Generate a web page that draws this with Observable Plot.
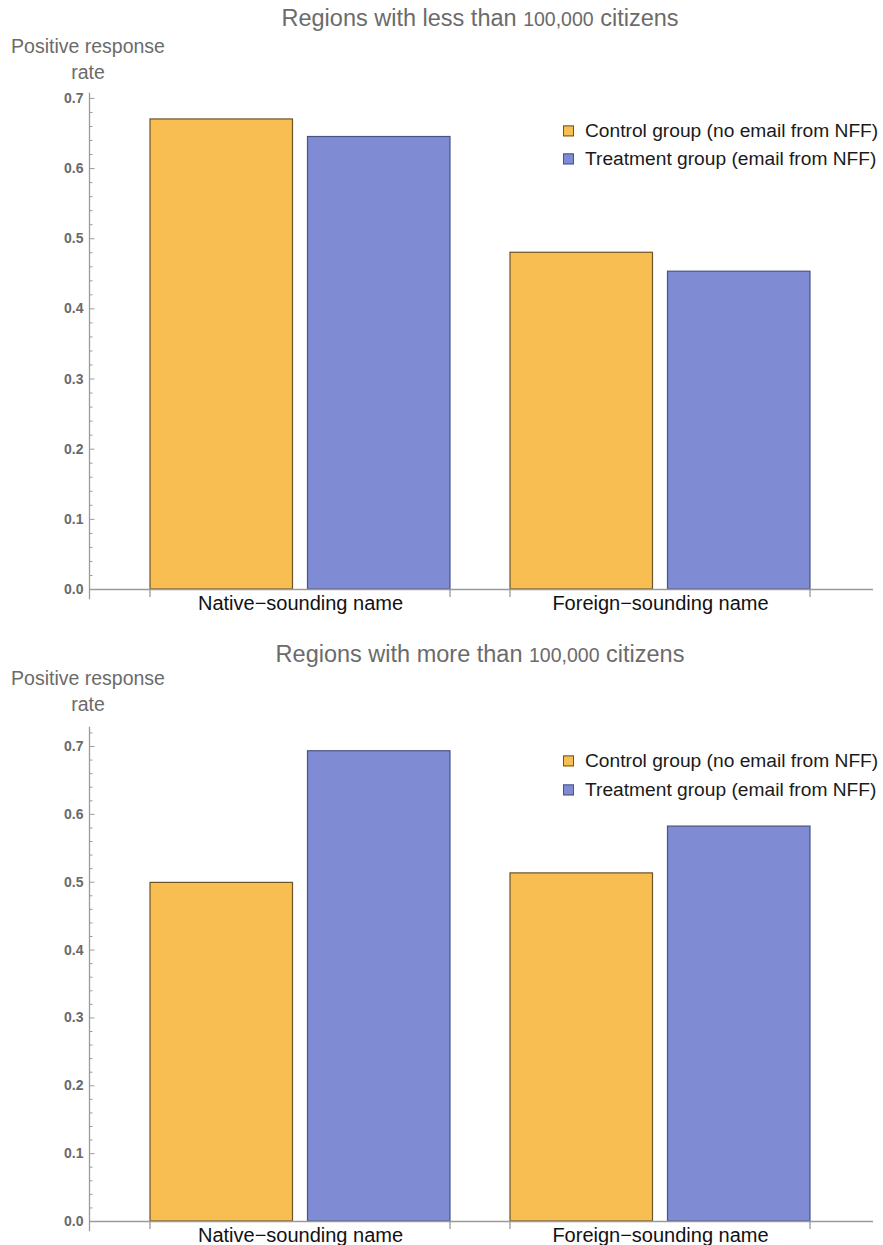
<!DOCTYPE html>
<html><head><meta charset="utf-8">
<script src="https://cdn.jsdelivr.net/npm/d3@7"></script>
<script src="https://cdn.jsdelivr.net/npm/@observablehq/plot@0.6"></script>
<style>
body{margin:0;background:#fff;font-family:"Liberation Sans",Arial,sans-serif;}
#root{position:relative;width:883px;height:1245px;overflow:hidden;background:#fff;}
.abs{position:absolute;white-space:nowrap;line-height:1;}
.title{color:#6b6b6b;font-size:23.5px;transform:translate(-50%,-50%);}
.title .num{font-size:19.5px;}
.ylab{color:#6b6b6b;font-size:19.5px;transform:translate(-50%,-50%);text-align:center;}
.leg{font-size:19.2px;color:#1a1a1a;transform:translateY(-50%);display:flex;align-items:center;}
.sw{width:9px;height:9px;border:1px solid;margin-right:11px;display:inline-block;}
svg{position:absolute;left:0;}
</style></head><body><div id="root"></div>
<script>
const categories = ["Native\u2212sounding name", "Foreign\u2212sounding name"];
const groups = ["Control group (no email from NFF)", "Treatment group (email from NFF)"];
const smallControl = [0.670, 0.480];
const smallTreatment = [0.645, 0.453];
const largeControl = [0.499, 0.513];
const largeTreatment = [0.693, 0.582];
const majorTicks = [0, 0.1, 0.2, 0.3, 0.4, 0.5, 0.6, 0.7];
const minorTicks = [0.02,0.04,0.06,0.08,0.12,0.14,0.16,0.18,0.22,0.24,0.26,0.28,0.32,0.34,0.36,0.38,0.42,0.44,0.46,0.48,0.52,0.54,0.56,0.58,0.62,0.64,0.66,0.68,0.72];
const fills = ["#F9BE52", "#7F8CD4"];
const edges = ["#6a5428", "#4a5384"];
const titles = ["less", "more"];

const root = document.getElementById("root");
const FONT = "'Liberation Sans', Arial, sans-serif";

function chart(cfg) {
  const ctrl = categories.map((c, i) => ({category: c, group: groups[0], value: cfg.control[i]}));
  const treat = categories.map((c, i) => ({category: c, group: groups[1], value: cfg.treatment[i]}));
  const inset = 157.5;
  const plot = Plot.plot({
    width: 883, height: cfg.height,
    marginLeft: 89, marginRight: 12, marginTop: cfg.marginTop, marginBottom: cfg.marginBottom,
    style: {background: "transparent", fontFamily: FONT, overflow: "visible"},
    x: {domain: categories, paddingInner: 60/360, paddingOuter: 61/360, label: null},
    y: {domain: [0, cfg.yMax], label: null},
    color: {domain: groups, range: fills},
    marks: [
      Plot.barY(ctrl, {x: "category", y: "value", fill: "group", stroke: edges[0], strokeWidth: 1.2, insetRight: inset}),
      Plot.barY(treat, {x: "category", y: "value", fill: "group", stroke: edges[1], strokeWidth: 1.2, insetLeft: inset}),
      Plot.ruleY([0], {stroke: "#9a9a9a", strokeWidth: 1.3, insetRight: -2}),
      Plot.frame({anchor: "left", stroke: "#9a9a9a", strokeWidth: 1.3, insetBottom: -9}),
      Plot.axisY(majorTicks, {anchor: "right", frameAnchor: "left", tickSize: 4.5, text: null, label: null, stroke: "#9a9a9a"}),
      Plot.axisY(minorTicks.filter(t => t <= cfg.yMax), {anchor: "right", frameAnchor: "left", tickSize: 2.5, text: null, label: null, stroke: "#9a9a9a"}),
      Plot.axisY(majorTicks, {anchor: "left", tickSize: 0, tickPadding: 6, tickFormat: d3.format(".1f"), fontWeight: "bold", fontSize: 14, fill: "#6a6a6a", label: null}),
      Plot.axisX({tickSize: 0, tickPadding: 6, fontSize: 20, fill: "#111", label: null})
    ]
  });
  const xs = plot.scale("x"), ys = plot.scale("y");
  const y0 = ys.apply(0);
  const g = d3.select(plot).append("g").attr("stroke", "#9a9a9a").attr("stroke-width", 1.3);
  categories.forEach(c => {
    const a = xs.apply(c), b = a + xs.bandwidth;
    [a, b].forEach(x => g.append("line").attr("x1", x).attr("x2", x).attr("y1", y0).attr("y2", y0 + 8));
  });
  plot.style.top = cfg.top + "px";
  root.appendChild(plot);

  const t = document.createElement("div");
  t.className = "abs title";
  t.style.left = "480px"; t.style.top = cfg.titleY + "px";
  t.innerHTML = `Regions with ${cfg.word} than <span class="num">100,000</span> citizens`;
  root.appendChild(t);

  const yl = document.createElement("div");
  yl.className = "abs ylab";
  yl.style.left = "88px"; yl.style.top = cfg.ylabY + "px";
  yl.style.lineHeight = "26px";
  yl.innerHTML = "Positive response<br>rate";
  root.appendChild(yl);

  groups.forEach((gname, i) => {
    const l = document.createElement("div");
    l.className = "abs leg";
    l.style.left = "563px"; l.style.top = cfg.legY[i] + "px";
    l.innerHTML = `<span class="sw" style="background:${fills[i]};border-color:${edges[i]}"></span>${gname}`;
    root.appendChild(l);
  });
}

chart({top: 0, height: 620, marginTop: 93, marginBottom: 31, yMax: 0.707,
  control: smallControl, treatment: smallTreatment, word: titles[0],
  titleY: 19, ylabY: 59, legY: [131, 159]});
chart({top: 620, height: 625, marginTop: 107, marginBottom: 24, yMax: 0.728,
  control: largeControl, treatment: largeTreatment, word: titles[1],
  titleY: 655, ylabY: 691, legY: [761, 790]});
</script></body></html>
